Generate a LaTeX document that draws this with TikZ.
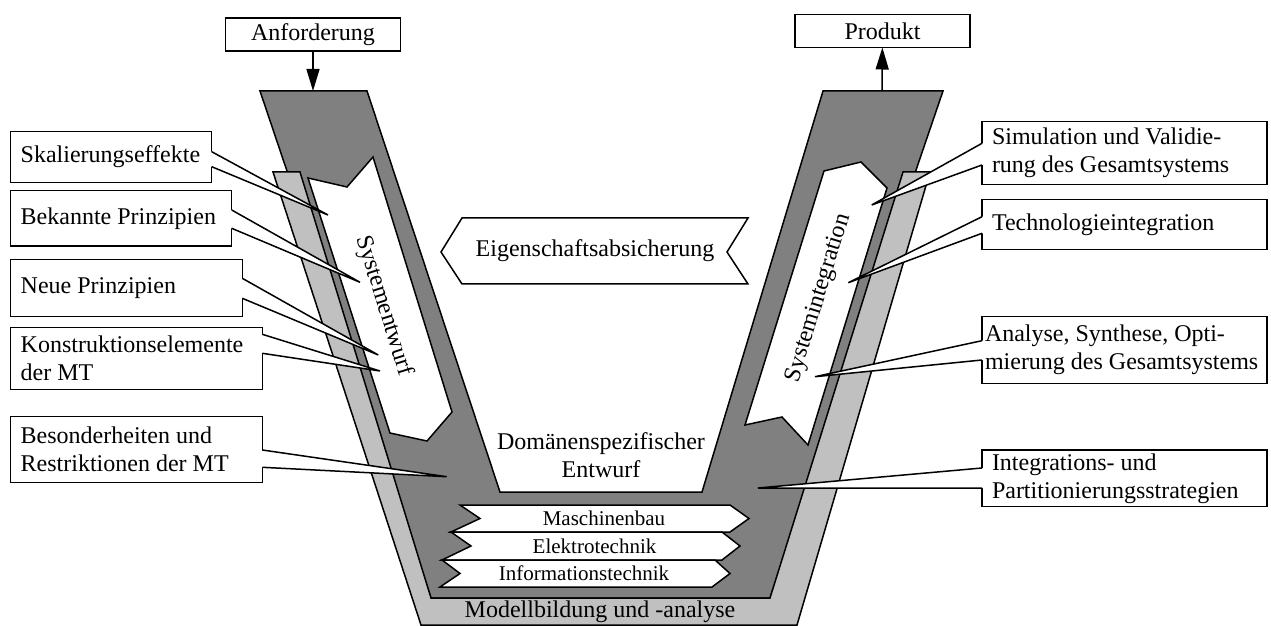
\documentclass[tikz,border=0pt]{standalone}
\usepackage{fontspec}
\setmainfont{Liberation Serif}
\usetikzlibrary{arrows.meta,calc}
\definecolor{vgray}{RGB}{128,128,128}
\definecolor{vsilver}{RGB}{192,192,192}
\newcommand{\labelfs}{\fontsize{12}{14}\selectfont}
\newcommand{\domainfs}{\fontsize{10.5}{12}\selectfont}
% wedge of a callout, from the box side to the tip
\newcommand{\wedgeleft}[4]{%
  \fill[white] ($(#1.north east)+(-2,#2)$) -- ($(#1.north east)+(0,#2)$) -- (#4)
    -- ($(#1.north east)+(0,#3)$) -- ($(#1.north east)+(-2,#3)$) -- cycle;
  \draw ($(#1.north east)+(0,#2)$) -- (#4) -- ($(#1.north east)+(0,#3)$);}
\newcommand{\wedgeright}[4]{%
  \fill[white] ($(#1.north west)+(2,#2)$) -- ($(#1.north west)+(0,#2)$) -- (#4)
    -- ($(#1.north west)+(0,#3)$) -- ($(#1.north west)+(2,#3)$) -- cycle;
  \draw ($(#1.north west)+(0,#2)$) -- (#4) -- ($(#1.north west)+(0,#3)$);}

\begin{document}
\begin{tikzpicture}[x=0.5pt, y=-0.5pt, line width=0.75pt,
    callout/.style 2 args={draw, fill=white, anchor=north west, align=flush left,
      font=\labelfs, inner xsep=5pt, inner ysep=0pt, outer sep=0pt,
      text width=#1, minimum height=#2},
    topbox/.style={draw, fill=white, font=\labelfs, minimum width=87.5pt,
      minimum height=16.5pt, inner sep=0pt, outer sep=0pt},
    body/.style={draw, fill=vgray},
    band/.style={draw, fill=vsilver},
    flow/.style={draw, fill=white},
    arrow/.style={-{Triangle[length=11pt,width=6.5pt]}}]
  \useasboundingbox (0,0) rectangle (1271,626);

  % V body and modelling band
  \draw[body] (260,91) -- (367,91) -- (500,492) -- (702,492) -- (823,91)
    -- (943,91) -- (770,598) -- (431,598) -- cycle;
  \draw[band] (273,172) -- (300,172) -- (431,598) -- (770,598) -- (903,172)
    -- (930,172) -- (797,625) -- (421,625) -- cycle;

  % phases
  \draw[flow] (308,178) -- (347,187) -- (373,157) -- (452,412) -- (427,441)
    -- (390,433) -- cycle;
  \node[rotate=-72.5, font=\labelfs] (entwurf) at (384,306) {Systementwurf};
  \draw[flow] (824,171) -- (861,162) -- (887,188) -- (808,445) -- (782,417)
    -- (745,425) -- cycle;
  \node[rotate=72.9, font=\labelfs] (integ) at (819,298) {Systemintegration};
  \draw[flow] (441,252) -- (462,218) -- (748,218) -- (727,252) -- (748,284)
    -- (462,284) -- cycle;
  \node[font=\labelfs] (absich) at (595,251) {Eigenschaftsabsicherung};

  \draw[flow] (460,505) -- (730,505) -- (749,518.5) -- (730,532) -- (451,532)
    -- (480,518.5) -- cycle;
  \draw[flow] (451,532) -- (722,532) -- (740,546) -- (722,560) -- (442,560)
    -- (471,546) -- cycle;
  \draw[flow] (442,560) -- (715,560) -- (730,573.5) -- (712,587) -- (440,587)
    -- (460,573.5) -- cycle;
  \node[font=\domainfs] (mb) at (604,518.5) {Maschinenbau};
  \node[font=\domainfs] (et) at (594.5,546) {Elektrotechnik};
  \node[font=\domainfs] (it) at (584,573.5) {Informationstechnik};

  \node[font=\labelfs, align=center] (domain) at (601,455) {Domänenspezifischer\\Entwurf};
  \node[font=\labelfs] (model) at (600,612) {Modellbildung und -analyse};

  % input and output
  \node[topbox] (anf) at (313,34.5) {Anforderung};
  \node[topbox] (prod) at (882.5,31) {Produkt};
  \coordinate (anf-in) at (313,91);
  \coordinate (prod-out) at (882,91);
  \draw[arrow] (anf) -- (anf-in);
  \draw[arrow] (prod-out) -- (prod);

  % callouts left
  \node[callout={90.5pt}{25.3pt}] (skal) at (10.7,131.7) {Skalierungseffekte};
  \node[callout={100.5pt}{27.7pt}] (bek) at (10.7,190.7) {Bekannte Prinzipien};
  \node[callout={105.8pt}{28.7pt}] (neu) at (10.7,259.3) {Neue Prinzipien};
  \node[callout={115.8pt}{30.8pt}] (konst) at (10.7,327.7) {Konstruktionselemente\\der MT};
  \node[callout={115.8pt}{33pt}] (bes) at (10.7,416.7) {Besonderheiten und\\Restriktionen der MT};
  \coordinate (skal-tip) at (328,215);
  \coordinate (bek-tip) at (360,282.3);
  \coordinate (neu-tip) at (378.3,355);
  \coordinate (konst-tip) at (380,371);
  \coordinate (bes-tip) at (446.7,476.7);
  \wedgeleft{skal}{20}{35}{skal-tip}
  \wedgeleft{bek}{19.3}{37.6}{bek-tip}
  \wedgeleft{neu}{19}{39}{neu-tip}
  \wedgeleft{konst}{6.6}{25.6}{konst-tip}
  \wedgeleft{bes}{33.3}{50.6}{bes-tip}

  % callouts right
  \node[callout={132.5pt}{31.3pt}] (sim) at (982,121.7) {Simulation und Validie-\\rung des Gesamtsystems};
  \node[callout={132.5pt}{25pt}] (tech) at (982,199.3) {Technologieintegration};
  \node[callout={132.5pt}{33.3pt}, inner xsep=1.5pt, text width=139.5pt] (ana) at (982,316.7) {Analyse, Synthese, Opti-\\mierung des Gesamtsystems};
  \node[callout={132.5pt}{28.3pt}] (strat) at (982,450) {Integrations- und\\Partitionierungsstrategien};
  \coordinate (sim-tip) at (871.7,205);
  \coordinate (tech-tip) at (848.3,282.7);
  \coordinate (ana-tip) at (815,376.7);
  \coordinate (strat-tip) at (758,488);
  \wedgeright{sim}{21.6}{43.3}{sim-tip}
  \wedgeright{tech}{17.4}{34}{tech-tip}
  \wedgeright{ana}{24}{43.3}{ana-tip}
  \wedgeright{strat}{18}{38}{strat-tip}
\end{tikzpicture}
\end{document}
